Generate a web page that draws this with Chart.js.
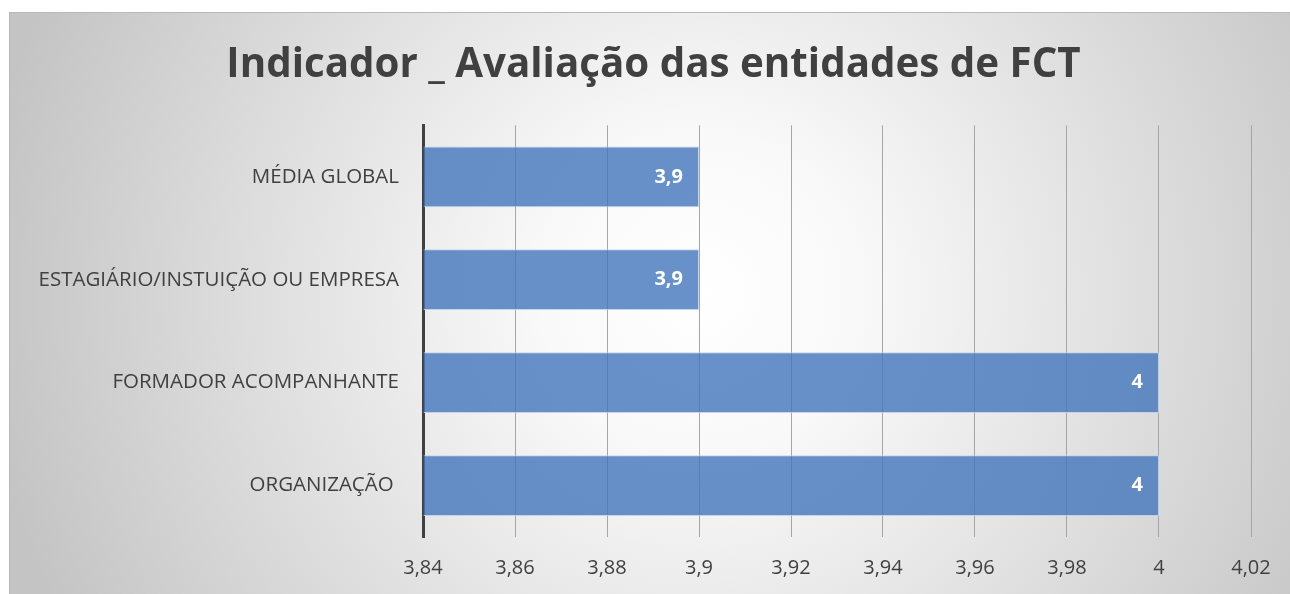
<!DOCTYPE html>
<html>
<head>
<meta charset="utf-8">
<script src="https://cdn.jsdelivr.net/npm/chart.js@4"></script>
<style>
  html, body { margin: 0; padding: 0; background: #fff; }
  #wrap { position: relative; width: 1290px; height: 594px; overflow: hidden; }
  #box {
    position: absolute; left: 9px; top: 12px; width: 1290px; height: 600px;
    border-top: 1px solid #b8b8b8; border-left: 1px solid #b8b8b8;
    background: radial-gradient(circle 720px at 690px 280px, #ffffff 0%, #f9f9f9 22%, #c4c4c4 100%);
  }
  #chart { position: absolute; left: 0; top: 0; }
</style>
</head>
<body>
<div id="wrap">
  <div id="box"></div>
  <canvas id="chart" width="1290" height="594"></canvas>
</div>
<script>
const categories = ['MÉDIA GLOBAL', 'ESTAGIÁRIO/INSTUIÇÃO OU EMPRESA', 'FORMADOR ACOMPANHANTE', 'ORGANIZAÇÃO '];
const values = [3.9, 3.9, 4, 4];
const xMin = 3.84;
const xMax = 4.02;
const xStep = 0.02;

const fontFamily = '"Open Sans", Lato, sans-serif';
const textColor = '#404040';

function fmt(v) {
  return String(Math.round(v * 100) / 100).replace('.', ',');
}

// white value text at the end of each bar
const valueLabels = {
  id: 'valueLabels',
  afterDatasetsDraw(chart) {
    const ctx = chart.ctx;
    const meta = chart.getDatasetMeta(0);
    ctx.save();
    ctx.fillStyle = '#ffffff';
    ctx.font = 'bold 20px ' + fontFamily;
    ctx.textAlign = 'right';
    ctx.textBaseline = 'middle';
    meta.data.forEach((bar, i) => {
      ctx.fillText(fmt(values[i]), bar.x - 16, bar.y);
    });
    ctx.restore();
  }
};

// center the title over the outer frame rather than the padded layout
const titleOffset = {
  id: 'titleOffset',
  afterLayout(chart) {
    chart.titleBlock.left += 36;
  }
};

new Chart(document.getElementById('chart'), {
  type: 'bar',
  data: {
    labels: categories,
    datasets: [{
      data: values,
      base: xMin,
      backgroundColor: 'rgba(65,118,186,0.8)',
      borderColor: 'rgba(190,210,235,0.9)',
      borderWidth: 1,
      borderSkipped: 'start',
      barPercentage: 0.59,
      categoryPercentage: 1
    }]
  },
  options: {
    indexAxis: 'y',
    responsive: false,
    animation: false,
    layout: { padding: { left: 20, right: 39, top: 0, bottom: 0 } },
    plugins: {
      legend: { display: false },
      tooltip: { enabled: false },
      title: {
        display: true,
        text: 'Indicador _ Avaliação das entidades de FCT',
        color: textColor,
        font: { family: fontFamily, size: 40.3, weight: 'bold', lineHeight: 1.2 },
        padding: { top: 41, bottom: 36 }
      }
    },
    scales: {
      x: {
        type: 'linear',
        min: xMin,
        max: xMax,
        afterFit(scale) { scale.height = 57; },
        ticks: {
          stepSize: xStep,
          autoSkip: false,
          maxRotation: 0,
          padding: 19,
          color: textColor,
          font: { family: fontFamily, size: 20 },
          callback: v => fmt(v)
        },
        grid: { color: '#a6a6a6', lineWidth: 1, drawTicks: false },
        border: { display: false }
      },
      y: {
        afterFit(scale) { scale.width = 403; },
        ticks: {
          padding: 24,
          color: textColor,
          font: { family: fontFamily, size: 20.5 }
        },
        grid: { display: false, drawTicks: false },
        border: { display: true, color: '#404040', width: 3 }
      }
    }
  },
  plugins: [valueLabels, titleOffset]
});
</script>
</body>
</html>
